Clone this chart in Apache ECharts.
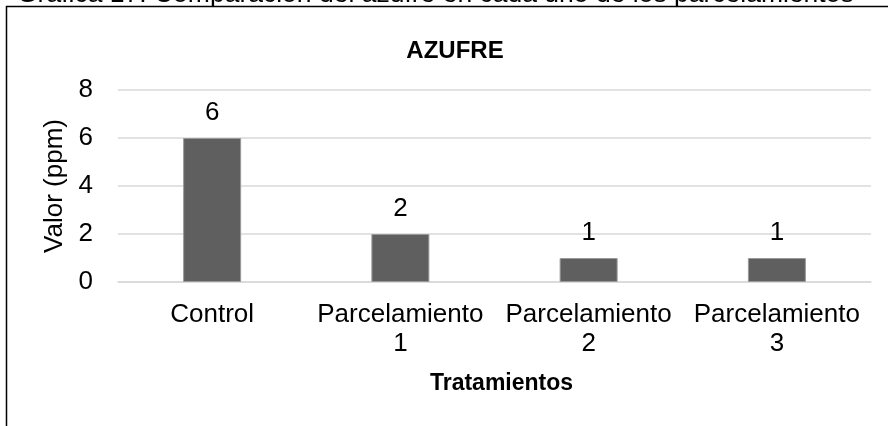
<!DOCTYPE html>
<html>
<head>
<meta charset="utf-8">
<script src="https://cdn.jsdelivr.net/npm/echarts@6/dist/echarts.min.js"></script>
<style>
  html, body { margin: 0; padding: 0; background: #fff; }
  #chart { width: 888px; height: 426px; }
</style>
</head>
<body>
<div id="chart"></div>
<script>
const caption = "Gráfica 17. Comparación del azufre en cada uno de los parcelamientos";
const title = "AZUFRE";
const categories = ["Control", "Parcelamiento\n1", "Parcelamiento\n2", "Parcelamiento\n3"];
const values = [6, 2, 1, 1];
const yName = "Valor (ppm)";
const xName = "Tratamientos";

const font = "Liberation Sans, Arial, sans-serif";
const chart = echarts.init(document.getElementById("chart"));

chart.setOption({
  animation: false,
  textStyle: { fontFamily: font },
  title: {
    text: title,
    left: 450,
    top: 34,
    textAlign: "center",
    textStyle: { fontSize: 24, fontWeight: "bold", color: "#000", fontFamily: font },
  },
  graphic: [
    {
      type: "polyline",
      shape: { points: [[6.5, 426], [6.5, 6.5], [888, 6.5]] },
      style: { stroke: "#000", lineWidth: 1.5, fill: null },
      silent: true,
    },
    {
      type: "text",
      x: 17,
      y: -5,
      style: { text: caption, fontSize: 26.5, fontFamily: font, fill: "#000", verticalAlign: "middle" },
      silent: true,
    },
  ],
  grid: { left: 118, right: 17, top: 90, bottom: 144 },
  xAxis: {
    type: "category",
    data: categories,
    name: xName,
    nameLocation: "middle",
    nameGap: 90,
    nameTextStyle: { fontSize: 23, fontWeight: "bold", color: "#000", padding: [0, 0, 0, 14] },
    axisLine: { lineStyle: { color: "#d9d9d9", width: 1.5 } },
    axisTick: { show: false },
    axisLabel: { color: "#000", fontSize: 26, margin: 18, lineHeight: 29, interval: 0 },
  },
  yAxis: {
    type: "value",
    min: 0,
    max: 8,
    interval: 2,
    name: yName,
    nameLocation: "middle",
    nameGap: 48,
    nameTextStyle: { fontSize: 26, color: "#000" },
    axisLine: { show: false },
    axisTick: { show: false },
    axisLabel: { color: "#000", fontSize: 26, margin: 25 },
    splitLine: { lineStyle: { color: "#d9d9d9", width: 1.5 } },
  },
  series: [
    {
      type: "bar",
      data: values,
      barWidth: 58,
      itemStyle: { color: "#5f5f5f", borderColor: "#9a9a9a", borderWidth: 1 },
      label: {
        show: true,
        position: "top",
        distance: 12,
        color: "#000",
        fontSize: 26,
      },
    },
  ],
});
</script>
</body>
</html>
